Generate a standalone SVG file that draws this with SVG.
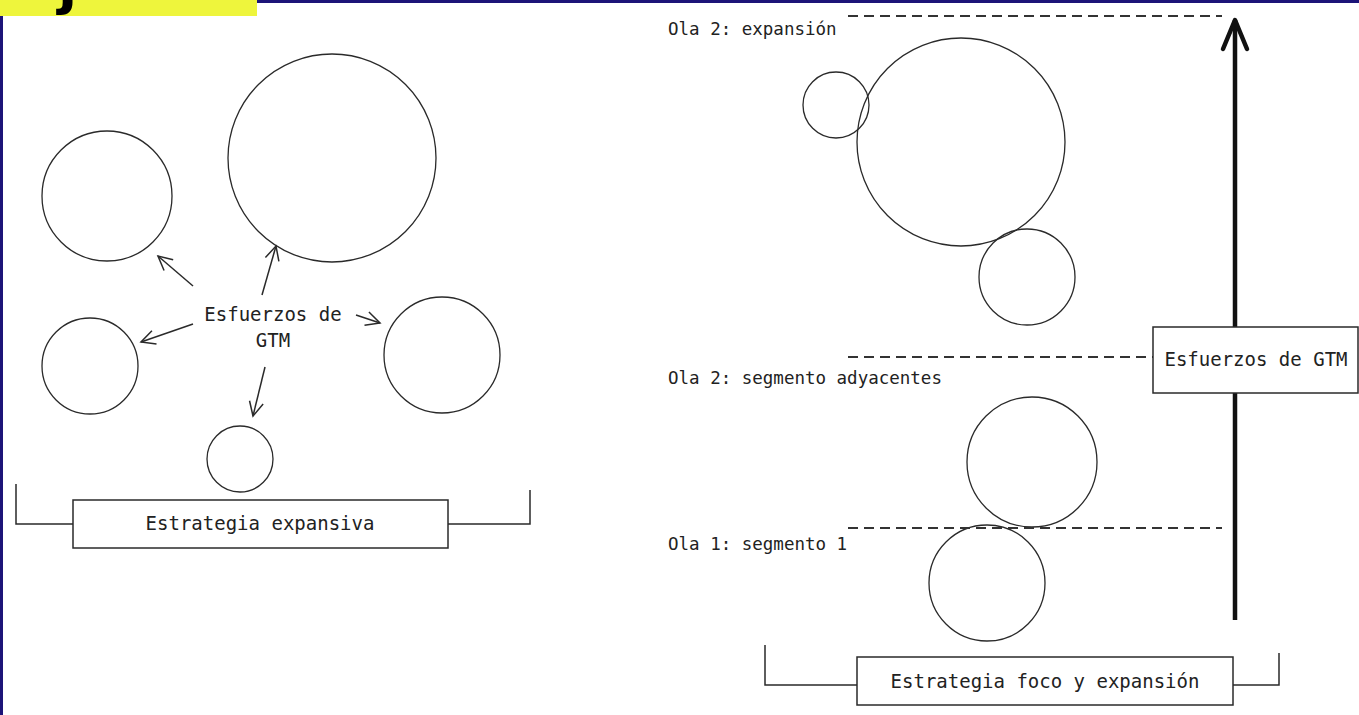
<svg xmlns="http://www.w3.org/2000/svg" width="1359" height="715" viewBox="0 0 1359 715">
<defs>
<style>
.c{fill:none;stroke:#2a2a2a;stroke-width:1.3}
.ln{fill:none;stroke:#2a2a2a;stroke-width:1.5}
.dash{fill:none;stroke:#333;stroke-width:2;stroke-dasharray:10 6}
.box{fill:#fff;stroke:#2a2a2a;stroke-width:1.5}
.t{font-family:"DejaVu Sans Mono","Liberation Mono",monospace;fill:#222}
.big{font-size:19px}
.sm{font-size:17.5px}
</style>
<marker id="ah" viewBox="0 0 20 20" refX="16" refY="10" markerWidth="20" markerHeight="20" markerUnits="userSpaceOnUse" orient="auto">
<path d="M2,3 L16,10 L2,17" fill="none" stroke="#2a2a2a" stroke-width="1.5"/>
</marker>
</defs>
<rect width="1359" height="715" fill="#fff"/>
<g id="frame">
<rect x="0" y="0" width="1359" height="3" fill="#1c1478"/>
<rect x="0" y="0" width="3" height="715" fill="#1c1478"/>
<rect x="0" y="0" width="257" height="16" fill="#eef53c"/>
<svg x="0" y="0" width="257" height="16" overflow="hidden"><text x="58" y="3" font-family="DejaVu Sans" font-weight="bold" font-size="56" fill="#000">j</text></svg>
</g>
<g id="left-circle-a"><circle class="c" cx="107" cy="196" r="65"/></g>
<g id="left-circle-big"><circle class="c" cx="332" cy="158" r="104"/></g>
<g id="left-circle-c"><circle class="c" cx="90" cy="366" r="48"/></g>
<g id="left-circle-d"><circle class="c" cx="442" cy="355" r="58"/></g>
<g id="left-circle-e"><circle class="c" cx="240" cy="459" r="33"/></g>
<g id="left-label"><text class="t big" x="273" y="321" text-anchor="middle">Esfuerzos de</text><text class="t big" x="273" y="347" text-anchor="middle">GTM</text></g>
<g id="left-connectors">
<line class="ln" x1="193" y1="286" x2="158" y2="256" marker-end="url(#ah)"/>
<line class="ln" x1="262" y1="295" x2="276" y2="246" marker-end="url(#ah)"/>
<line class="ln" x1="193" y1="324" x2="141" y2="342" marker-end="url(#ah)"/>
<line class="ln" x1="356" y1="315" x2="380" y2="323" marker-end="url(#ah)"/>
<line class="ln" x1="265" y1="367" x2="253" y2="416" marker-end="url(#ah)"/>
<path class="ln" d="M16,484 V524 H73 M448,524 H530 V490"/>
</g>
<g id="left-strategy"><rect class="box" x="73" y="500" width="375" height="48"/><text class="t big" x="260" y="530" text-anchor="middle">Estrategia expansiva</text></g>
<g id="right-circle-small"><circle class="c" cx="836" cy="105" r="33"/></g>
<g id="right-circle-big"><circle class="c" cx="961" cy="142" r="104"/></g>
<g id="right-circle-mid"><circle class="c" cx="1027" cy="277" r="48"/></g>
<g id="right-circle-adj"><circle class="c" cx="1032" cy="462" r="65"/></g>
<g id="right-circle-seg1"><circle class="c" cx="987" cy="583" r="58"/></g>
<g id="labels">
<text class="t sm" x="668" y="35">Ola 2: expansión</text>
<text class="t sm" x="668" y="384">Ola 2: segmento adyacentes</text>
<text class="t sm" x="668" y="550">Ola 1: segmento 1</text>
</g>
<g id="right-connectors">
<line class="dash" x1="848" y1="16" x2="1222" y2="16"/>
<line class="dash" x1="848" y1="357" x2="1153" y2="357"/>
<line class="dash" x1="848" y1="528" x2="1222" y2="528"/>
<line x1="1235" y1="620" x2="1235" y2="20" stroke="#111" stroke-width="4.5"/>
<path d="M1223,49 L1235,20 L1247,49" fill="none" stroke="#111" stroke-width="4.5" stroke-linecap="round" stroke-linejoin="round"/>
<path class="ln" d="M765,645 V685 H857 M1233,685 H1279 V653"/>
</g>
<g id="gtm-box"><rect class="box" x="1153" y="327" width="205" height="66"/><text class="t big" x="1256" y="366" text-anchor="middle">Esfuerzos de GTM</text></g>
<g id="right-strategy"><rect class="box" x="857" y="657" width="376" height="48"/><text class="t big" x="1045" y="688" text-anchor="middle">Estrategia foco y expansión</text></g>
</svg>
